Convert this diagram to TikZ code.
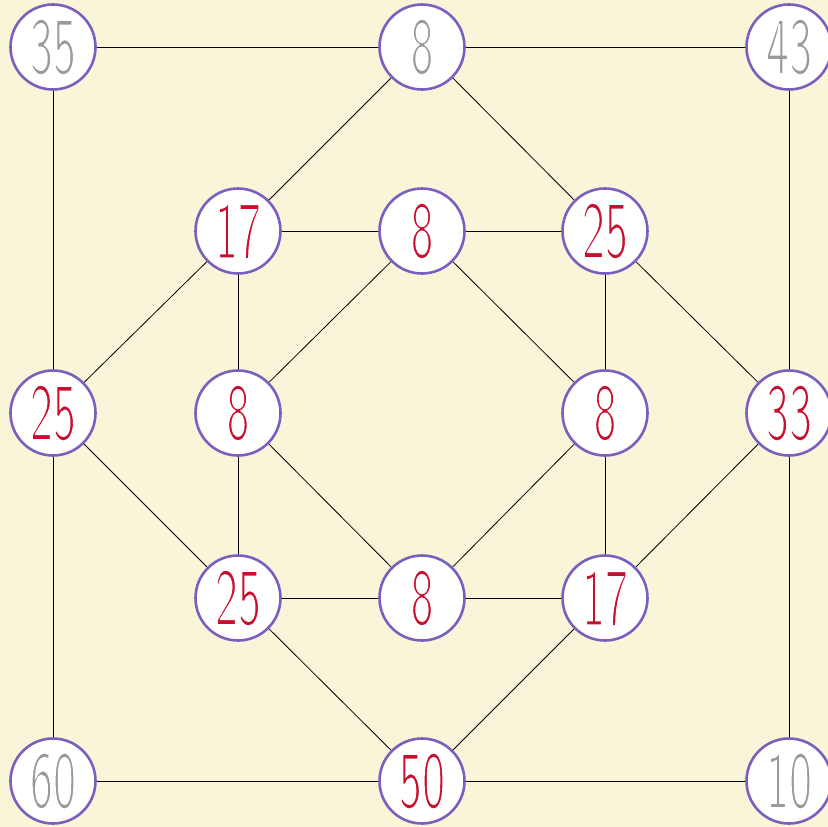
\documentclass[tikz,border=0pt]{standalone}
\usepackage{fontspec}
\setsansfont{Latin Modern Sans}[FakeStretch=0.6]
\usetikzlibrary{backgrounds}
\definecolor{bg}{HTML}{F8F5D8}
\definecolor{ring}{HTML}{7B5FBF}
\definecolor{redt}{HTML}{C8102E}
\definecolor{greyt}{HTML}{9A9A9A}
\newcommand{\thinnum}[1]{\special{pdf:literal direct q 1 1 1 RG 1.6 w 2 Tr}#1\special{pdf:literal direct Q}}
\begin{document}
\begin{tikzpicture}[x=1pt,y=-1pt,
  num/.style={circle,draw=ring,line width=2.6pt,fill=white,minimum size=85pt,inner sep=0pt,
    font=\sffamily\fontsize{82}{82}\selectfont},
  given/.style={num,text=greyt},
  found/.style={num,text=redt},
  edge/.style={draw=black,line width=0.8pt}]
\useasboundingbox (0,0) rectangle (828,827);
\node[given] (a1) at (53,47) {\thinnum{35}};
\node[given] (a3) at (422,47) {\thinnum{8}};
\node[given] (a5) at (789,47) {\thinnum{43}};
\node[found] (b2) at (238,231) {\thinnum{17}};
\node[found] (b3) at (422,231) {\thinnum{8}};
\node[found] (b4) at (605,231) {\thinnum{25}};
\node[found] (c1) at (53,413) {\thinnum{25}};
\node[found] (c2) at (238,413) {\thinnum{8}};
\node[found] (c4) at (605,413) {\thinnum{8}};
\node[found] (c5) at (789,413) {\thinnum{33}};
\node[found] (d2) at (238,598) {\thinnum{25}};
\node[found] (d3) at (422,598) {\thinnum{8}};
\node[found] (d4) at (605,598) {\thinnum{17}};
\node[given] (e1) at (53,781) {\thinnum{60}};
\node[found] (e3) at (422,781) {\thinnum{50}};
\node[given] (e5) at (789,781) {\thinnum{10}};
\begin{pgfonlayer}{background}
\fill[bg] (0,0) rectangle (828,827);
\path[edge] (a1) -- (a3) -- (a5) -- (c5) -- (e5) -- (e3) -- (e1) -- (c1) -- (a1);
\path[edge] (a3) -- (b2) -- (c1) -- (d2) -- (e3) -- (d4) -- (c5) -- (b4) -- (a3);
\path[edge] (b2) -- (b3) -- (b4) -- (c4) -- (d4) -- (d3) -- (d2) -- (c2) -- (b2);
\path[edge] (b3) -- (c2) -- (d3) -- (c4) -- (b3);
\end{pgfonlayer}
\end{tikzpicture}
\end{document}
